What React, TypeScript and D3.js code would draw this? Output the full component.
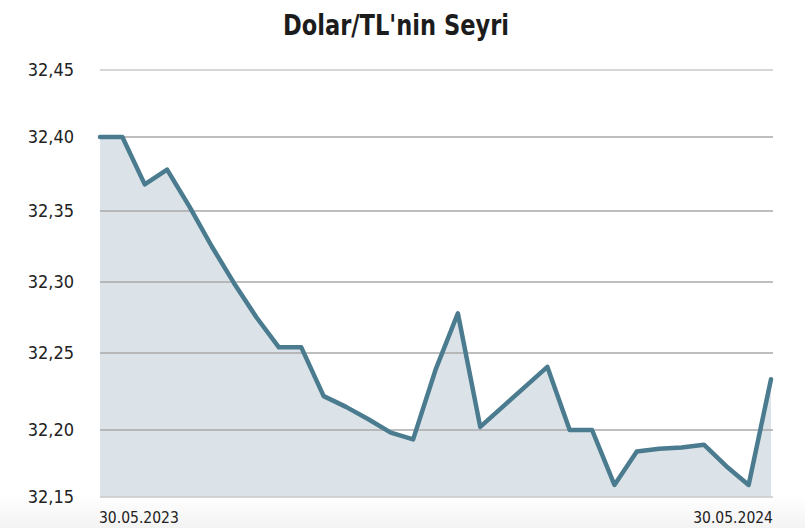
import React from "react";
import * as d3 from "d3";

const title = "Dolar/TL'nin Seyri";
const values: number[] = [
  32.4, 32.4, 32.368, 32.378, 32.353, 32.325, 32.299, 32.275, 32.254, 32.254,
  32.222, 32.215, 32.207, 32.198, 32.193, 32.239, 32.278, 32.202, 32.215, 32.228,
  32.241, 32.2, 32.2, 32.159, 32.184, 32.186, 32.187, 32.189, 32.173, 32.159,
  32.233,
];
const yTicks: number[] = [32.15, 32.2, 32.25, 32.3, 32.35, 32.4, 32.45];
const yTickLabels: string[] = ["32,15", "32,20", "32,25", "32,30", "32,35", "32,40", "32,45"];
const xLabels: string[] = ["30.05.2023", "30.05.2024"];

const W = 805;
const H = 528;
const FONT = "'Liberation Sans Narrow', 'DejaVu Sans Condensed', 'Roboto', sans-serif";

export default function App() {
  const x = d3.scaleLinear().domain([0, values.length - 1]).range([100, 771]);
  // gridline pixel positions in the reference are not evenly spaced
  const y = d3.scaleLinear().domain(yTicks).range([497, 430, 353, 282, 211, 137, 70]);

  const area = d3
    .area<number>()
    .x((_, i) => x(i))
    .y0(y(32.15))
    .y1((d) => y(d));
  const line = d3
    .line<number>()
    .x((_, i) => x(i))
    .y((d) => y(d));

  return (
    <svg
      width={W}
      height={H}
      style={{ position: "absolute", left: 0, top: 0, background: "#fff" }}
      fontFamily={FONT}
    >
      <defs>
        <linearGradient id="bg" x1="0" y1="0" x2="0" y2="1">
          <stop offset="0" stopColor="#ffffff" />
          <stop offset="1" stopColor="#f3f3f3" />
        </linearGradient>
      </defs>
      <rect x={0} y={495} width={W} height={H - 495} fill="url(#bg)" />
      <text
        x={396}
        y={35}
        textAnchor="middle"
        fontSize={28}
        fill="#1c1c1c"
        fontWeight={700}
        textLength={226}
        lengthAdjust="spacingAndGlyphs"
      >
        {title}
      </text>
      <path d={area(values) || ""} fill="#dbe3e8" />
      {yTicks.map((t, i) => (
        <g key={t}>
          <line x1={100} x2={773} y1={y(t)} y2={y(t)} stroke={i === 0 || i === 6 ? "#c8c8c8" : "#a8a8a8"} strokeWidth={1.3} />
          <text x={74} y={y(t)} dy="0.35em" textAnchor="end" fontSize={18} fill="#222">
            {yTickLabels[i]}
          </text>
        </g>
      ))}
      <path
        d={line(values) || ""}
        fill="none"
        stroke="#4a7b8f"
        strokeWidth={4.5}
        strokeLinejoin="round"
        strokeLinecap="round"
      />
      <text x={99} y={523} fontSize={15.5} fill="#222">
        {xLabels[0]}
      </text>
      <text x={773} y={523} textAnchor="end" fontSize={15.5} fill="#222">
        {xLabels[1]}
      </text>
    </svg>
  );
}
